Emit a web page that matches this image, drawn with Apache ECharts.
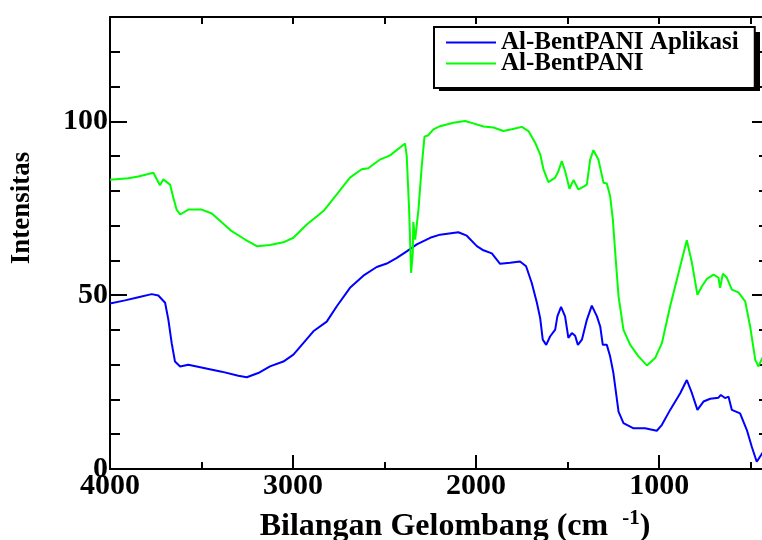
<!DOCTYPE html>
<html>
<head>
<meta charset="utf-8">
<title>FTIR Al-BentPANI</title>
<script src="https://cdn.jsdelivr.net/npm/echarts@6/dist/echarts.min.js"></script>
<style>
  body { margin: 0; background: #fff; }
  #main { width: 762px; height: 540px; }
</style>
</head>
<body>
<div id="main"></div>
<script>
// wavenumbers (cm-1) and intensities
const aplikasiWn = [4000, 3991, 3918, 3845, 3772, 3736, 3699, 3681, 3663, 3645, 3617, 3572, 3481, 3390, 3299, 3253, 3190, 3126, 3053, 2998, 2944, 2889, 2816, 2761, 2689, 2616, 2543, 2488, 2433, 2379, 2324, 2251, 2197, 2097, 2051, 1996, 1960, 1914, 1869, 1814, 1760, 1727, 1696, 1668, 1650, 1636, 1617, 1596, 1568, 1556, 1536, 1514, 1496, 1477, 1459, 1444, 1422, 1395, 1368, 1340, 1322, 1308, 1286, 1268, 1250, 1222, 1195, 1140, 1077, 1013, 985, 940, 885, 849, 821, 791, 758, 721, 676, 663, 640, 621, 603, 558, 521, 494, 467, 437, 410]
const aplikasiVal = [47.6, 47.8, 48.5, 49.4, 50.3, 49.9, 47.8, 42.9, 36.2, 30.9, 29.5, 30, 29, 28, 26.8, 26.4, 27.6, 29.5, 30.9, 32.9, 36.2, 39.6, 42.4, 46.8, 52.1, 55.6, 58.1, 59.1, 60.7, 62.6, 64.6, 66.5, 67.4, 68.1, 67.1, 64.1, 62.9, 62, 59, 59.3, 59.7, 58.3, 53.5, 47.8, 43.4, 37.2, 35.7, 38.1, 40.1, 43.9, 46.6, 43.9, 37.7, 39.1, 38.3, 35.7, 37.2, 42.9, 47, 43.9, 41, 35.7, 35.7, 32.4, 27.6, 16.5, 13.2, 11.7, 11.7, 11, 12.7, 17, 21.8, 25.6, 21.8, 17, 19.4, 20.2, 20.5, 21.3, 20.4, 20.8, 17, 16, 11.2, 6.4, 2.1, 4.5, 7]

const bentWn = [4000, 3991, 3900, 3845, 3763, 3727, 3709, 3672, 3654, 3636, 3617, 3572, 3499, 3444, 3390, 3335, 3262, 3198, 3126, 3053, 2998, 2925, 2834, 2761, 2689, 2625, 2589, 2525, 2470, 2388, 2379, 2366, 2355, 2346, 2343, 2333, 2315, 2297, 2282, 2261, 2233, 2197, 2124, 2060, 2015, 1960, 1905, 1851, 1805, 1750, 1714, 1678, 1650, 1632, 1605, 1568, 1550, 1532, 1514, 1490, 1468, 1441, 1413, 1395, 1377, 1359, 1332, 1304, 1286, 1268, 1253, 1240, 1222, 1195, 1158, 1113, 1067, 1022, 985, 940, 885, 849, 821, 791, 767, 739, 703, 676, 667, 652, 630, 603, 567, 530, 503, 475, 457, 437, 410]
const bentVal = [83.2, 83.3, 83.6, 84.1, 85.2, 81.6, 83.3, 81.8, 78, 74.6, 73.2, 74.6, 74.6, 73.5, 71, 68.4, 66, 64.1, 64.4, 65.2, 66.5, 70.3, 74.2, 79, 83.8, 86.2, 86.5, 89, 90.2, 93.6, 90, 74.6, 56.4, 62.2, 71, 66, 74.6, 87.1, 95.6, 96, 97.7, 98.6, 99.6, 100.1, 99.4, 98.5, 98.2, 97.2, 97.7, 98.4, 97.2, 93.9, 90.5, 86.2, 82.5, 83.8, 85.7, 88.6, 85.7, 80.6, 83.1, 80.4, 81.2, 81.8, 89, 91.7, 89, 82.3, 82.1, 78.5, 71.8, 62.2, 49.7, 40, 35.7, 32.4, 29.8, 31.9, 36.2, 46.8, 58.3, 65.8, 59.3, 50.1, 52.5, 54.7, 55.9, 55, 52.1, 56.2, 55, 51.6, 50.8, 48.2, 41, 31.4, 29.5, 31.9, 34]

const xLabels = [4000, 3000, 2000, 1000]
const xMinor = [3500, 2500, 1500, 500]
const xTop = [3500, 3000, 2500, 2000, 1500, 1000, 500]
const yLabels = [0, 50, 100]
const yMinor = [10, 20, 30, 40, 60, 70, 80, 90, 110, 120]

const serif = 'Liberation Serif'
const pairs = (xs, ys) => xs.map((x, i) => [x, ys[i]])

const xBase = { type: 'value', min: 400, max: 4000, inverse: true, splitLine: { show: false } }
const yBase = { type: 'value', min: 0, max: 130, splitLine: { show: false } }
const noLine = { show: false }
const noLabel = { show: false }
const tickStyle = { color: '#000', width: 2 }
const axisLine = { show: true, onZero: false, lineStyle: tickStyle }

const chart = echarts.init(document.getElementById('main'))
chart.setOption({
  animation: false,
  grid: { left: 110, top: 17, width: 659, height: 452, containLabel: false, outerBoundsMode: 'none' },
  legend: {
    orient: 'vertical',
    left: 434,
    top: 27,
    z: 10,
    icon: 'rect',
    itemWidth: 50,
    itemHeight: 2,
    itemGap: -4,
    padding: [3, 16, 12, 12],
    backgroundColor: '#fff',
    borderColor: '#000',
    borderWidth: 2,
    borderRadius: 0,
    textStyle: { fontFamily: serif, fontWeight: 'bold', fontSize: 25, color: '#000', lineHeight: 20 },
    data: ['Al-BentPANI Aplikasi', 'Al-BentPANI']
  },
  graphic: [
    {
      // legend drop shadow
      type: 'rect',
      z: 5,
      shape: { x: 439, y: 32, width: 321, height: 59 },
      style: { fill: '#000' }
    },
    {
      type: 'text',
      x: 22,
      y: 208,
      rotation: Math.PI / 2,
      style: { text: 'Intensitas', align: 'center', verticalAlign: 'middle', fontFamily: serif, fontWeight: 'bold', fontSize: 27, fill: '#000' }
    },
    {
      type: 'text',
      x: 455,
      y: 527,
      style: {
        text: '{a|Bilangan Gelombang (cm }{s|-1}{a|)}',
        align: 'center',
        verticalAlign: 'middle',
        rich: {
          a: { fontFamily: serif, fontWeight: 'bold', fontSize: 32, fill: '#000' },
          s: { fontFamily: serif, fontWeight: 'bold', fontSize: 21, fill: '#000', padding: [0, 0, 16, 6] }
        }
      }
    }
  ],
  xAxis: [
    Object.assign({}, xBase, {
      position: 'bottom',
      axisLine: axisLine,
      axisTick: { show: true, inside: true, length: 14, customValues: xLabels, lineStyle: tickStyle },
      axisLabel: { customValues: xLabels, formatter: v => String(v), margin: 2, fontFamily: serif, fontWeight: 'bold', fontSize: 30, color: '#000' }
    }),
    Object.assign({}, xBase, {
      position: 'bottom',
      axisLine: noLine,
      axisTick: { show: true, inside: true, length: 7, customValues: xMinor, lineStyle: tickStyle },
      axisLabel: noLabel
    }),
    Object.assign({}, xBase, {
      position: 'top',
      axisLine: axisLine,
      axisTick: { show: true, inside: true, length: 7, customValues: xTop, lineStyle: tickStyle },
      axisLabel: noLabel
    })
  ],
  yAxis: [
    Object.assign({}, yBase, {
      position: 'left',
      axisLine: axisLine,
      axisTick: { show: true, inside: true, length: 17, customValues: yLabels, lineStyle: tickStyle },
      axisLabel: { customValues: yLabels, formatter: v => String(v), margin: 2, fontFamily: serif, fontWeight: 'bold', fontSize: 30, color: '#000' }
    }),
    Object.assign({}, yBase, {
      position: 'left',
      axisLine: noLine,
      axisTick: { show: true, inside: true, length: 10, customValues: yMinor, lineStyle: tickStyle },
      axisLabel: noLabel
    }),
    Object.assign({}, yBase, {
      position: 'right',
      axisLine: axisLine,
      axisTick: { show: true, inside: true, length: 17, customValues: yLabels, lineStyle: tickStyle },
      axisLabel: noLabel
    }),
    Object.assign({}, yBase, {
      position: 'right',
      axisLine: noLine,
      axisTick: { show: true, inside: true, length: 10, customValues: yMinor, lineStyle: tickStyle },
      axisLabel: noLabel
    })
  ],
  series: [
    {
      name: 'Al-BentPANI Aplikasi',
      type: 'line',
      showSymbol: false,
      color: '#0000ff',
      lineStyle: { width: 2, color: '#0000ff' },
      data: pairs(aplikasiWn, aplikasiVal)
    },
    {
      name: 'Al-BentPANI',
      type: 'line',
      showSymbol: false,
      color: '#00ff00',
      lineStyle: { width: 2, color: '#00ff00' },
      data: pairs(bentWn, bentVal)
    }
  ]
})
</script>
</body>
</html>
